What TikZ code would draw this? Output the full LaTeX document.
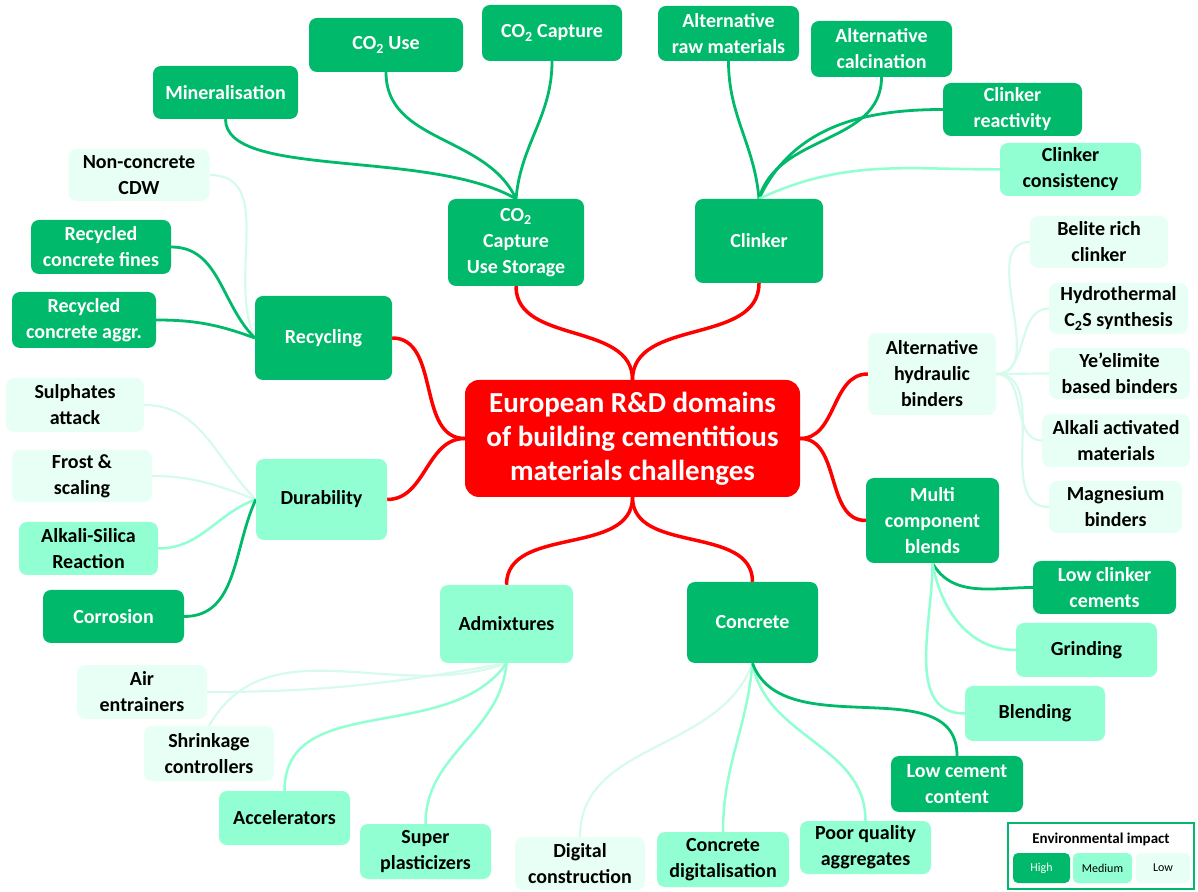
\documentclass[tikz,border=0pt]{standalone}
\usepackage{fontspec}
\setmainfont{Carlito}
\usetikzlibrary{positioning,backgrounds}
\definecolor{hg}{HTML}{00B96A}
\definecolor{mg}{HTML}{91FFD1}
\definecolor{lg}{HTML}{E8FFF5}
\definecolor{lgline}{HTML}{D6FBEC}
\definecolor{rd}{HTML}{FF0000}
\tikzset{
    hi/.style =     {rectangle,
                    rounded corners=8pt,
                    fill=hg,
                    text=white,
                    align=center,
                    inner sep=0pt,
                    font=\bfseries\fontsize{20}{26}\selectfont},
    med/.style =    {hi,
                    fill=mg,
                    text=black},
    lo/.style =     {hi,
                    fill=lg,
                    text=black},
    root/.style =   {hi,
                    rounded corners=14pt,
                    fill=rd,
                    font=\bfseries\fontsize{29}{34}\selectfont},
    wh/.style 2 args = {minimum width=#1pt,
                    minimum height=#2pt},
    key/.style =    {rectangle,
                    rounded corners=5pt,
                    inner sep=0pt,
                    minimum height=30pt,
                    font=\fontsize{12}{14}\selectfont},
    redline/.style = {draw=rd, line width=3.5pt},
    hiline/.style = {draw=hg, line width=2.8pt},
    medline/.style = {draw=mg, line width=2.5pt},
    loline/.style = {draw=lgline, line width=2.2pt}
}

\begin{document}
\begin{tikzpicture}[x=1pt, y=1pt]
                \useasboundingbox (0,0) rectangle (1198,891);
                \node[root, wh={335}{117}]  (central)  at (632.5,452.5) {European R\&D domains\\of building cementitious\\materials challenges};

                \node[hi, wh={136}{87}]     (ccus)     at (516,648.5)   {CO\textsubscript{2}\\Capture\\Use Storage};
                \node[hi, wh={145}{53}]     (mineral)  at (225.5,798.5) {Mineralisation};
                \node[hi, wh={154}{54}]     (co2use)   at (386,846)     {CO\textsubscript{2} Use};
                \node[hi, wh={140}{56}]     (co2cap)   at (552,858)     {CO\textsubscript{2} Capture};

                \node[hi, wh={128}{84}]     (clinker)  at (759,650)     {Clinker};
                \node[hi, wh={141}{55}]     (altraw)   at (728.5,857.5) {Alternative\\raw materials};
                \node[hi, wh={141}{56}]     (altcalc)  at (881.5,842)   {Alternative\\calcination};
                \node[hi, wh={139}{53}]     (clreact)  at (1012.5,781.5) {Clinker\\reactivity};
                \node[med, wh={141}{53}]    (clcons)   at (1070.5,721.5) {Clinker\\consistency};

                \node[hi, wh={137}{84}]     (recyc)    at (323.5,553)   {Recycling};
                \node[lo, wh={141}{52}]     (cdw)      at (139,716)     {Non-concrete\\CDW};
                \node[hi, wh={140}{54}]     (rcfines)  at (101,644)     {Recycled\\concrete fines};
                \node[hi, wh={144}{56}]     (rcaggr)   at (84,571)      {Recycled\\concrete aggr.};

                \node[med, wh={131}{81}]    (dur)      at (321.5,391.5) {Durability};
                \node[lo, wh={138}{54}]     (sulph)    at (75,486)      {Sulphates\\attack};
                \node[lo, wh={140}{52}]     (frost)    at (82,415)      {Frost \&\\scaling};
                \node[med, wh={139}{53}]    (asr)      at (88.5,342.5)  {Alkali-Silica\\Reaction};
                \node[hi, wh={141}{53}]     (corr)     at (113.5,274.5) {Corrosion};

                \node[lo, wh={128}{82}]     (hyd)      at (932,517)     {Alternative\\hydraulic\\binders};
                \node[lo, wh={138}{52}]     (belite)   at (1099,649)    {Belite rich\\clinker};
                \node[lo, wh={139}{51}]     (hydro)    at (1118.5,582.5) {Hydrothermal\\C\textsubscript{2}S synthesis};
                \node[lo, wh={141}{51}]     (yee)      at (1119.5,517.5) {Ye’elimite\\based binders};
                \node[lo, wh={148}{53}]     (aam)      at (1116,450.5)  {Alkali activated\\materials};
                \node[lo, wh={133}{52}]     (mag)      at (1115.5,384)  {Magnesium\\binders};

                \node[hi, wh={133}{85}]     (multi)    at (932.5,370.5) {Multi\\component\\blends};
                \node[hi, wh={143}{53}]     (lcc)      at (1104.5,303.5) {Low clinker\\cements};
                \node[med, wh={141}{54}]    (grind)    at (1086.5,241)  {Grinding};
                \node[med, wh={140}{55}]    (blend)    at (1035,177.5)  {Blending};

                \node[med, wh={133}{78}]    (adm)      at (506.5,267)   {Admixtures};
                \node[lo, wh={130}{54}]     (air)      at (142,199)     {Air\\entrainers};
                \node[lo, wh={130}{55}]     (shrink)   at (209,137.5)   {Shrinkage\\controllers};
                \node[med, wh={131}{54}]    (accel)    at (284.5,73)    {Accelerators};
                \node[med, wh={131}{55}]    (super)    at (425.5,39.5)  {Super\\plasticizers};

                \node[hi, wh={131}{81}]     (concrete) at (752.5,268.5) {Concrete};
                \node[lo, wh={130}{53}]     (digcon)   at (580,27.5)    {Digital\\construction};
                \node[med, wh={132}{55}]    (condig)   at (723,31.5)    {Concrete\\digitalisation};
                \node[med, wh={131}{53}]    (poor)     at (865.5,43.5)  {Poor quality\\aggregates};
                \node[hi, wh={132}{56}]     (lcem)     at (957,107)     {Low cement\\content};

                \draw[hg, line width=1.8pt] (1008,2) rectangle (1194,68);
                \node[font=\bfseries\fontsize{15}{17}\selectfont] (keytitle) at (1101,52) {Environmental impact};
                \node[key, fill=hg, text=white, minimum width=57pt] (keyhi)  at (1041.5,23) {High};
                \node[key, fill=mg, minimum width=59pt]             (keymed) at (1102.5,23) {Medium};
                \node[key, fill=lg, minimum width=54pt]             (keylo)  at (1163,23)   {Low};

                \begin{scope}[on background layer]
                \draw[redline] (central.north) to[out=90,in=-90] (ccus.south);
                \draw[redline] (central.north) to[out=90,in=-90] (clinker.south);
                \draw[redline] (central.west) to[out=180,in=0] (recyc.east);
                \draw[redline] (central.west) to[out=180,in=0] (dur.east);
                \draw[redline] (central.east) to[out=0,in=180] (hyd.west);
                \draw[redline] (central.east) to[out=0,in=180] (multi.west);
                \draw[redline] (central.south) to[out=-90,in=90] (adm.north);
                \draw[redline] (central.south) to[out=-90,in=90] (concrete.north);

                \draw[hiline] (ccus.north) to[out=150,in=-90,out distance=100pt,in distance=60pt] (mineral.south);
                \draw[hiline] (ccus.north) to[out=115,in=-90] (co2use.south);
                \draw[hiline] (ccus.north) to[out=85,in=-90] (co2cap.south);

                \draw[hiline] (clinker.north) to[out=95,in=-90] (altraw.south);
                \draw[hiline] (clinker.north) to[out=75,in=-90] (altcalc.south);
                \draw[hiline] (clinker.north) to[out=65,in=180] (clreact.west);
                \draw[medline] (clinker.north) to[out=25,in=180] (clcons.west);

                \draw[loline] (recyc.west) to[out=115,in=0] (cdw.east);
                \draw[hiline] (recyc.west) to[out=135,in=0] (rcfines.east);
                \draw[hiline] (recyc.west) to[out=160,in=0] (rcaggr.east);

                \draw[loline] (dur.west) to[out=135,in=0] (sulph.east);
                \draw[loline] (dur.west) to[out=160,in=0] (frost.east);
                \draw[medline] (dur.west) to[out=-160,in=0] (asr.east);
                \draw[hiline] (dur.west) to[out=-115,in=0] (corr.east);

                \foreach \n in {belite,hydro,yee,aam,mag}
                    \draw[loline] (hyd.east) to[out=0,in=180] (\n.west);

                \draw[hiline] (multi.south) to[out=-60,in=180] (lcc.west);
                \draw[medline] (multi.south) to[out=-80,in=180] (grind.west);
                \draw[medline] (multi.south) to[out=-90,in=180] (blend.west);

                \draw[loline] (adm.south) to[out=190,in=0] (air.east);
                \draw[loline] (adm.south) to[out=-160,in=60] (shrink.north);
                \draw[medline] (adm.south) to[out=-125,in=90] (accel.north);
                \draw[medline] (adm.south) to[out=-95,in=90] (super.north);

                \draw[loline] (concrete.south) to[out=-110,in=90] (digcon.north);
                \draw[medline] (concrete.south) to[out=-95,in=90] (condig.north);
                \draw[medline] (concrete.south) to[out=-80,in=90] (poor.north);
                \draw[hiline] (concrete.south) to[out=-70,in=90] (lcem.north);
                \end{scope}
\end{tikzpicture}
\end{document}
